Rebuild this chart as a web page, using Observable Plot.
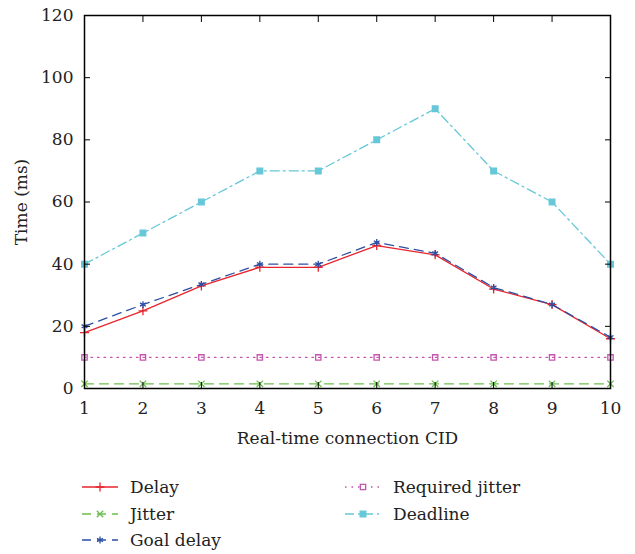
<!DOCTYPE html>
<html><head><meta charset="utf-8">
<script src="https://cdn.jsdelivr.net/npm/d3@7"></script>
<script src="https://cdn.jsdelivr.net/npm/@observablehq/plot@0.6"></script>
<style>
body{margin:0;background:#fff;font-family:'DejaVu Serif',serif;}
#chart{position:absolute;left:0;top:0;}
#chart svg, #chart svg text{font-family:'DejaVu Serif',serif !important;}
#legend{position:absolute;left:0;top:470px;width:635px;height:84px;font-size:17px;color:#222;}
.item{position:absolute;display:flex;align-items:center;height:26px;}
.item svg{margin-right:12px;}
</style></head>
<body>
<div id="chart"></div>
<div id="legend"></div>
<script>
const cid = [1,2,3,4,5,6,7,8,9,10];
const delay = [18,25,33,39,39,46,43,32,27,16];
const jitter = [1.5,1.5,1.5,1.5,1.5,1.5,1.5,1.5,1.5,1.5];
const goalDelay = [20,27,33.5,40,40,47,43.5,32.5,27,16.5];
const requiredJitter = [10,10,10,10,10,10,10,10,10,10];
const deadline = [40,50,60,70,70,80,90,70,60,40];
const yTicks = [0,20,40,60,80,100,120];

const series = [
  {name:"Delay", values:delay, color:"#e8252e", dash:null, symbol:"plus", fill:false, r:3},
  {name:"Jitter", values:jitter, color:"#6cbf4e", dash:"9,6", symbol:"times", fill:false, r:3},
  {name:"Goal delay", values:goalDelay, color:"#2c4fa3", dash:"9,6", symbol:"asterisk", fill:false, r:3.2},
  {name:"Required jitter", values:requiredJitter, color:"#c455ad", dash:"1.5,5", symbol:"square", fill:false, r:3},
  {name:"Deadline", values:deadline, color:"#66c7d8", dash:"9,4,2,4", symbol:"square", fill:true, r:3.2}
];

const marks = [];
for (const s of series) {
  const d = cid.map((c,i)=>({cid:c, v:s.values[i]}));
  marks.push(Plot.line(d, {x:"cid", y:"v", stroke:s.color, strokeWidth:1.3, strokeDasharray:s.dash}));
  marks.push(Plot.dot(d, {x:"cid", y:"v", symbol:()=>s.symbol, r:s.r, stroke:s.color, strokeWidth:1.3, fill: s.fill ? s.color : "none"}));
}

const chart = Plot.plot({
  width:635, height:452,
  marginLeft:84, marginRight:25, marginTop:15, marginBottom:64,
  style:{fontFamily:"'DejaVu Serif', serif", fontSize:"17px", color:"#222", background:"#fff"},
  x:{domain:[1,10]},
  y:{domain:[0,120]},
  symbol:{type:"identity"},
  marks:[
    ...marks,
    Plot.frame({stroke:"#000", strokeWidth:1.5}),
    Plot.axisX(cid, {anchor:"bottom", tickSize:-6, tickPadding:19, fontSize:17, label:"Real-time connection CID", labelAnchor:"center", labelArrow:"none", labelOffset:55, stroke:"#000"}),
    Plot.axisX(cid, {anchor:"top", tickSize:-6, tickFormat:()=>"", label:null, stroke:"#000"}),
    Plot.axisY(yTicks, {anchor:"left", tickSize:-6, tickPadding:17, fontSize:17, label:"Time (ms)", labelAnchor:"center", labelArrow:"none", labelOffset:70, stroke:"#000"}),
    Plot.axisY(yTicks, {anchor:"right", tickSize:-6, tickFormat:()=>"", label:null, stroke:"#000"})
  ]
});
document.getElementById("chart").appendChild(chart);

// legend
const pos = [[82,4],[82,31],[82,57],[345,4],[345,31]];
const leg = document.getElementById("legend");
const ns = "http://www.w3.org/2000/svg";
series.forEach((s,i)=>{
  const div = document.createElement("div");
  div.className="item";
  div.style.left=pos[i][0]+"px"; div.style.top=pos[i][1]+"px";
  const sv = document.createElementNS(ns,"svg");
  sv.setAttribute("width",36); sv.setAttribute("height",14);
  const ln = document.createElementNS(ns,"line");
  ln.setAttribute("x1",0); ln.setAttribute("x2",36); ln.setAttribute("y1",7); ln.setAttribute("y2",7);
  ln.setAttribute("stroke",s.color); ln.setAttribute("stroke-width",1.3);
  if (s.dash) ln.setAttribute("stroke-dasharray", s.dash);
  sv.appendChild(ln);
  const sym = d3.symbol().type({plus:d3.symbolPlus, times:d3.symbolTimes, asterisk:d3.symbolAsterisk, square:d3.symbolSquare}[s.symbol]).size(Math.PI*s.r*s.r);
  const p = document.createElementNS(ns,"path");
  p.setAttribute("d", sym()); p.setAttribute("transform","translate(18,7)");
  p.setAttribute("stroke", s.color); p.setAttribute("stroke-width",1.3);
  p.setAttribute("fill", s.fill ? s.color : "#fff");
  sv.appendChild(p);
  div.appendChild(sv);
  const t = document.createElement("span"); t.textContent = s.name;
  div.appendChild(t);
  leg.appendChild(div);
});
</script>
</body></html>
